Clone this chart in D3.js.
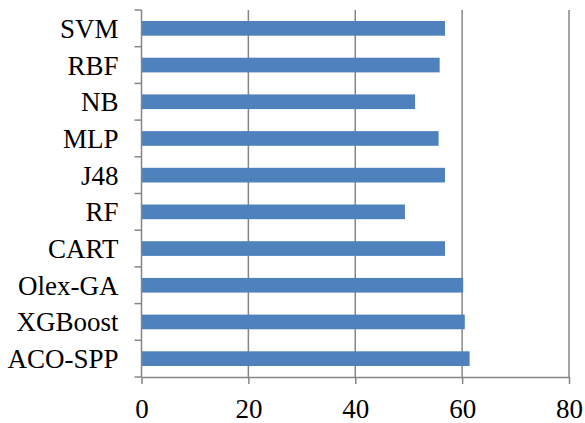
<!DOCTYPE html>
<html>
<head>
<meta charset="utf-8">
<script src="https://cdn.jsdelivr.net/npm/d3@7"></script>
<style>
  body { margin: 0; background: #fff; }
</style>
</head>
<body>
<svg id="chart"></svg>
<script>
const categories = ["SVM", "RBF", "NB", "MLP", "J48", "RF", "CART", "Olex-GA", "XGBoost", "ACO-SPP"];
const values = [56.8, 55.8, 51.2, 55.6, 56.8, 49.3, 56.8, 60.2, 60.5, 61.4];
const xTicks = [0, 20, 40, 60, 80];

const width = 585, height = 423;
const margin = { top: 10, right: 16, bottom: 46, left: 141.5 };
const innerW = width - margin.left - margin.right;
const innerH = height - margin.top - margin.bottom;
const gray = "#868686";
const font = "'Liberation Serif', 'Times New Roman', 'DejaVu Serif', serif";

const svg = d3.select("#chart")
    .attr("width", width)
    .attr("height", height);

const g = svg.append("g")
    .attr("transform", `translate(${margin.left},${margin.top})`);

const x = d3.scaleLinear().domain([0, 80]).range([0, innerW]);
const y = d3.scaleBand().domain(categories).range([0, innerH]).paddingInner(0.6).paddingOuter(0.3);
const band = innerH / categories.length;

// gridlines
g.selectAll("line.grid")
    .data(xTicks.slice(1))
    .enter().append("line")
    .attr("class", "grid")
    .attr("x1", d => x(d)).attr("x2", d => x(d))
    .attr("y1", 0).attr("y2", innerH)
    .attr("stroke", gray).attr("stroke-width", 1.5);

// bars
g.selectAll("rect")
    .data(values)
    .enter().append("rect")
    .attr("x", 0)
    .attr("y", (d, i) => y(categories[i]))
    .attr("width", d => x(d))
    .attr("height", y.bandwidth())
    .attr("fill", "#4f81bd");

// x axis
const xAxis = g.append("g")
    .attr("transform", `translate(0,${innerH})`)
    .call(d3.axisBottom(x).tickValues(xTicks).tickSizeInner(7).tickSizeOuter(0).tickPadding(15));
xAxis.attr("font-family", null).attr("font-size", null);
xAxis.select(".domain").attr("stroke", gray).attr("stroke-width", 1.5);
xAxis.selectAll(".tick line").attr("stroke", gray).attr("stroke-width", 1.5);
xAxis.selectAll("text")
    .attr("fill", "#000")
    .style("font-family", font)
    .style("font-size", "27px");

// y axis line + tick marks at band boundaries
g.append("line")
    .attr("x1", 0).attr("x2", 0).attr("y1", 0).attr("y2", innerH)
    .attr("stroke", gray).attr("stroke-width", 1.5);
g.selectAll("line.ytick")
    .data(d3.range(categories.length + 1))
    .enter().append("line")
    .attr("class", "ytick")
    .attr("x1", -7).attr("x2", 0)
    .attr("y1", i => i * band).attr("y2", i => i * band)
    .attr("stroke", gray).attr("stroke-width", 1.5);

// category labels
g.selectAll("text.cat")
    .data(categories)
    .enter().append("text")
    .attr("class", "cat")
    .attr("x", -23)
    .attr("y", d => y(d) + y.bandwidth() / 2)
    .attr("dy", "0.35em")
    .attr("text-anchor", "end")
    .style("font-family", font)
    .style("font-size", "27px")
    .text(d => d);
</script>
</body>
</html>
